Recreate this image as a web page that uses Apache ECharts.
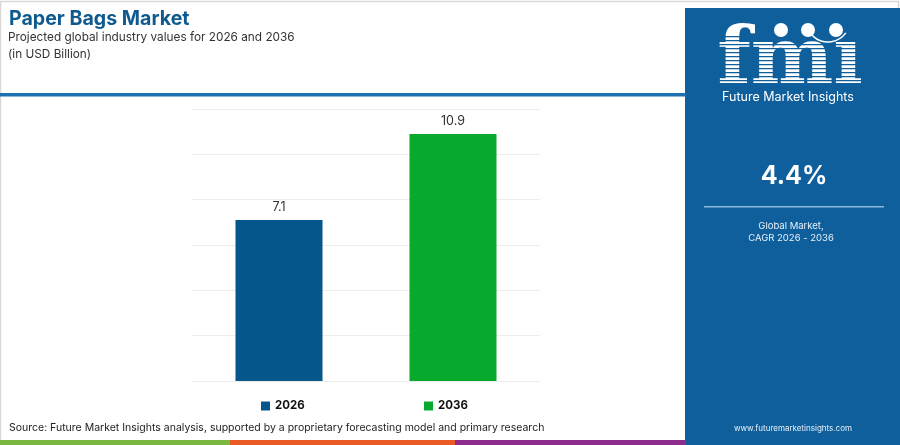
<!DOCTYPE html>
<html>
<head>
<meta charset="utf-8">
<script src="https://cdn.jsdelivr.net/npm/echarts@6/dist/echarts.min.js"></script>
<style>
html,body{margin:0;padding:0;background:#fff;}
#c{width:900px;height:445px;}
</style>
</head>
<body>
<div id="c"></div>
<script>
const categories = ['2026', '2036'];
const values2026 = [7.1, '-'];
const values2036 = ['-', 10.9];
const seriesNames = ['2026', '2036'];
const cagrText = '4.4%';

const FONT = 'Inter, "Open Sans", sans-serif';
const PANEL = '#0f5f9d';

const chart = echarts.init(document.getElementById('c'), null, {renderer: 'canvas'});

// decorative logo stripes
const stripes = [];
for (let y = 36; y <= 88; y += 4) {
  stripes.push({type: 'rect', z: 12, shape: {x: 716, y: y, width: 148, height: 1.3}, style: {fill: PANEL}});
}

chart.setOption({
  animation: false,
  textStyle: {fontFamily: FONT},
  grid: {left: 192, right: 360, top: 109, bottom: 64},
  xAxis: {
    type: 'category', data: categories,
    axisLine: {show: false}, axisTick: {show: false}, axisLabel: {show: false}
  },
  yAxis: {
    type: 'value', min: 0, max: 12, interval: 2,
    axisLabel: {show: false}, axisLine: {show: false}, axisTick: {show: false},
    splitLine: {lineStyle: {color: '#ececec', width: 1}}
  },
  legend: [
    {data: [seriesNames[0]], left: 256, top: 395, icon: 'rect', itemWidth: 9, itemHeight: 9, itemGap: 3,
     textStyle: {fontFamily: FONT, fontSize: 11.5, fontWeight: 'bold', color: '#111'}},
    {data: [seriesNames[1]], left: 419, top: 395, icon: 'rect', itemWidth: 9, itemHeight: 9, itemGap: 3,
     textStyle: {fontFamily: FONT, fontSize: 11.5, fontWeight: 'bold', color: '#111'}}
  ],
  series: [
    {name: seriesNames[0], type: 'bar', stack: 's', data: values2026, barWidth: '50%',
     itemStyle: {color: '#05578b'},
     label: {show: true, position: 'top', distance: 6, fontSize: 12.5, color: '#333', fontFamily: FONT}},
    {name: seriesNames[1], type: 'bar', stack: 's', data: values2036, barWidth: '50%',
     itemStyle: {color: '#08aa2d'},
     label: {show: true, position: 'top', distance: 6, fontSize: 12.5, color: '#333', fontFamily: FONT}}
  ],
  graphic: [
    // outer light border
    {type: 'rect', z: 0, shape: {x: 0.5, y: 1.5, width: 898, height: 442}, style: {fill: 'none', stroke: '#d8d8d8', lineWidth: 1.5}},
    // titles
    {type: 'text', left: 9, top: 9, z: 10, style: {text: 'Paper Bags Market', fill: '#0e5a8f', font: 'bold 19.6px ' + FONT}},
    {type: 'text', left: 8, top: 31, z: 10, style: {text: 'Projected global industry values for 2026 and 2036', fill: '#333', font: '11.8px ' + FONT}},
    {type: 'text', left: 8, top: 48, z: 10, style: {text: '(in USD Billion)', fill: '#333', font: '11.8px ' + FONT}},
    // blue rule
    {type: 'rect', z: 10, shape: {x: 0, y: 93, width: 686, height: 3.5}, style: {fill: '#1e6fae'}},
    // bottom stripes
    {type: 'rect', z: 10, shape: {x: 0, y: 440, width: 230, height: 5}, style: {fill: '#7cb740'}},
    {type: 'rect', z: 10, shape: {x: 230, y: 440, width: 225, height: 5}, style: {fill: '#ea5a25'}},
    {type: 'rect', z: 10, shape: {x: 455, y: 440, width: 231, height: 5}, style: {fill: '#8e2c8e'}},
    // source
    {type: 'text', left: 9, top: 422, z: 10, style: {text: 'Source: Future Market Insights analysis, supported by a proprietary forecasting model and primary research', fill: '#222', font: '10.5px ' + FONT}},
    // right panel
    {type: 'rect', z: 5, shape: {x: 685, y: 8, width: 215, height: 437}, style: {fill: PANEL}},
    // logo
    {type: 'text', z: 11, x: 790, y: 63, style: {text: 'fmı', fill: '#fff', font: 'bold 78px "DejaVu Serif", serif', textAlign: 'center', textVerticalAlign: 'middle'}},
    ...stripes,
    {type: 'circle', z: 13, shape: {cx: 781, cy: 30, r: 7}, style: {fill: '#fff'}},
    {type: 'circle', z: 13, shape: {cx: 808, cy: 30, r: 7}, style: {fill: '#fff'}},
    {type: 'circle', z: 13, shape: {cx: 836, cy: 30, r: 7}, style: {fill: '#fff'}},
    {type: 'arc', z: 13, shape: {cx: 828, cy: 20, r: 22, startAngle: Math.PI * 0.2, endAngle: Math.PI * 0.85}, style: {stroke: '#fff', lineWidth: 1.5, fill: 'none'}},
    {type: 'text', z: 11, x: 788, y: 97, style: {text: 'Future Market Insights', fill: '#fff', font: '12.5px ' + FONT, textAlign: 'center', textVerticalAlign: 'middle'}},
    // CAGR
    {type: 'text', z: 11, x: 794, y: 176, style: {text: cagrText, fill: '#fff', font: 'bold 25px ' + FONT, textAlign: 'center', textVerticalAlign: 'middle'}},
    {type: 'rect', z: 11, shape: {x: 704, y: 206, width: 180, height: 1.5}, style: {fill: '#8fb9dc'}},
    {type: 'text', z: 11, x: 791, y: 226, style: {text: 'Global Market,', fill: '#e8f0f8', font: '9.5px ' + FONT, textAlign: 'center', textVerticalAlign: 'middle'}},
    {type: 'text', z: 11, x: 791, y: 238, style: {text: 'CAGR 2026 - 2036', fill: '#e8f0f8', font: '9.5px ' + FONT, textAlign: 'center', textVerticalAlign: 'middle'}},
    {type: 'text', z: 11, x: 793, y: 429, style: {text: 'www.futuremarketinsights.com', fill: '#e8f0f8', font: '8px ' + FONT, textAlign: 'center', textVerticalAlign: 'middle'}}
  ]
});
</script>
</body>
</html>
